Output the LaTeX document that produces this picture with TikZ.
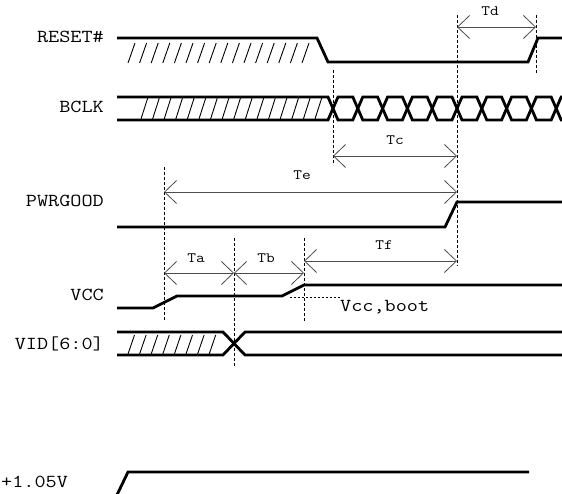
\documentclass[tikz,border=0pt]{standalone}
\usepackage{fontspec}
\setmonofont{Latin Modern Mono}[FakeStretch=1.18]
\usetikzlibrary{arrows.meta}
\begin{document}
\begin{tikzpicture}[x=1pt,y=-1pt,
  sig/.style={line width=2.8pt},
  hatchline/.style={line width=0.9pt},
  guide/.style={line width=0.8pt, dash pattern=on 3pt off 2pt},
  dotguide/.style={line width=0.8pt, dash pattern=on 2pt off 2pt},
  dim/.style={draw=black!70, line width=0.8pt,
    {Straight Barb[length=12pt,width=23pt]}-{Straight Barb[length=12pt,width=23pt]}},
  lbl/.style={font=\fontsize{18.3}{20}\selectfont\ttfamily, inner sep=0pt},
  tlbl/.style={font=\fontsize{14.3}{16}\selectfont\ttfamily, inner sep=0pt, anchor=base}]
\useasboundingbox (0,0) rectangle (562,494);
\clip (0,0) rectangle (562,494);

% signal names
\node[lbl, anchor=base east] (lreset) at (104,43) {RESET\#};
\node[lbl, anchor=base east] (lbclk) at (104,113) {BCLK};
\node[lbl, anchor=base east] (lpwr) at (104,207) {PWRGOOD};
\node[lbl, anchor=base east] (lvcc) at (104,301) {VCC};
\node[lbl, anchor=base east] (lvid) at (104,349) {VID[6:0]};
\node[lbl, anchor=base west] (lv105) at (1,487) {+1.05V};
\node[lbl, anchor=base west] (lboot) at (340,312) {Vcc,boot};

% RESET#
\draw[sig] (117,38) -- (317,38) -- (328,62) -- (528,62) -- (538,38) -- (566,38);
\foreach \i in {0,...,15} \draw[hatchline] ({128+11.6*\i},63) -- ++(7,-20);

% BCLK
\draw[sig] (117,97) foreach \k in {0,...,9} { -- ({328+24.8*\k},{97+23*mod(\k,2)}) -- ({338+24.8*\k},{120-23*mod(\k,2)}) } -- (566,97);
\draw[sig] (117,120) foreach \k in {0,...,9} { -- ({328+24.8*\k},{120-23*mod(\k,2)}) -- ({338+24.8*\k},{97+23*mod(\k,2)}) } -- (566,120);
\foreach \i in {0,...,15} \draw[hatchline] ({141+11.6*\i},119) -- ++(6.7,-21);

% PWRGOOD
\draw[sig] (117,227) -- (445,227) -- (457,202) -- (566,202);

% VCC
\draw[sig] (117,308) -- (153,308) -- (177,296) -- (282,296) -- (304,285) -- (566,285);
\draw[dotguide] (290,297) -- (340,297);

% VID[6:0]
\draw[sig] (117,332) -- (223,332) -- (245,355) -- (566,355);
\draw[sig] (117,355) -- (223,355) -- (245,332) -- (566,332);
\foreach \i in {0,...,7} \draw[hatchline] ({128+11.6*\i},354) -- ++(6.5,-19);

% +1.05V
\draw[sig] (116,497) -- (128,472) -- (529,472);

% guide lines
\coordinate (gA1) at (164,167); \coordinate (gA2) at (164,321);
\coordinate (gB1) at (234,238); \coordinate (gB2) at (234,367);
\coordinate (gC1) at (304,238); \coordinate (gC2) at (304,321);
\coordinate (gD1) at (333,70);  \coordinate (gD2) at (333,165);
\coordinate (gE1) at (457,15);  \coordinate (gE2) at (457,266);
\coordinate (gF1) at (536,15);  \coordinate (gF2) at (536,73);
\draw[guide] (gA1) -- (gA2);
\draw[guide] (gB1) -- (gB2);
\draw[guide] (gC1) -- (gC2);
\draw[guide] (gD1) -- (gD2);
\draw[guide] (gE1) -- (gE2);
\draw[guide] (gF1) -- (gF2);

% timing dimensions
\coordinate (tdL) at (457,27);  \coordinate (tdR) at (536,27);
\coordinate (tcL) at (333,156); \coordinate (tcR) at (457,156);
\coordinate (teL) at (164,192); \coordinate (teR) at (457,192);
\coordinate (tfL) at (304,261); \coordinate (tfR) at (457,261);
\coordinate (taL) at (164,273); \coordinate (taR) at (234,273);
\coordinate (tbL) at (234,273); \coordinate (tbR) at (304,273);
\draw[dim] (tdL) -- (tdR);
\draw[dim] (tcL) -- (tcR);
\draw[dim] (teL) -- (teR);
\draw[dim] (tfL) -- (tfR);
\draw[dim] (taL) -- (taR);
\draw[dim] (tbL) -- (tbR);

\node[tlbl] (ltd) at (490,16) {Td};
\node[tlbl] (ltc) at (395,145) {Tc};
\node[tlbl] (lte) at (302,180) {Te};
\node[tlbl] (ltf) at (384,250) {Tf};
\node[tlbl] (lta) at (196,263) {Ta};
\node[tlbl] (ltb) at (266,263) {Tb};
\end{tikzpicture}
\end{document}
